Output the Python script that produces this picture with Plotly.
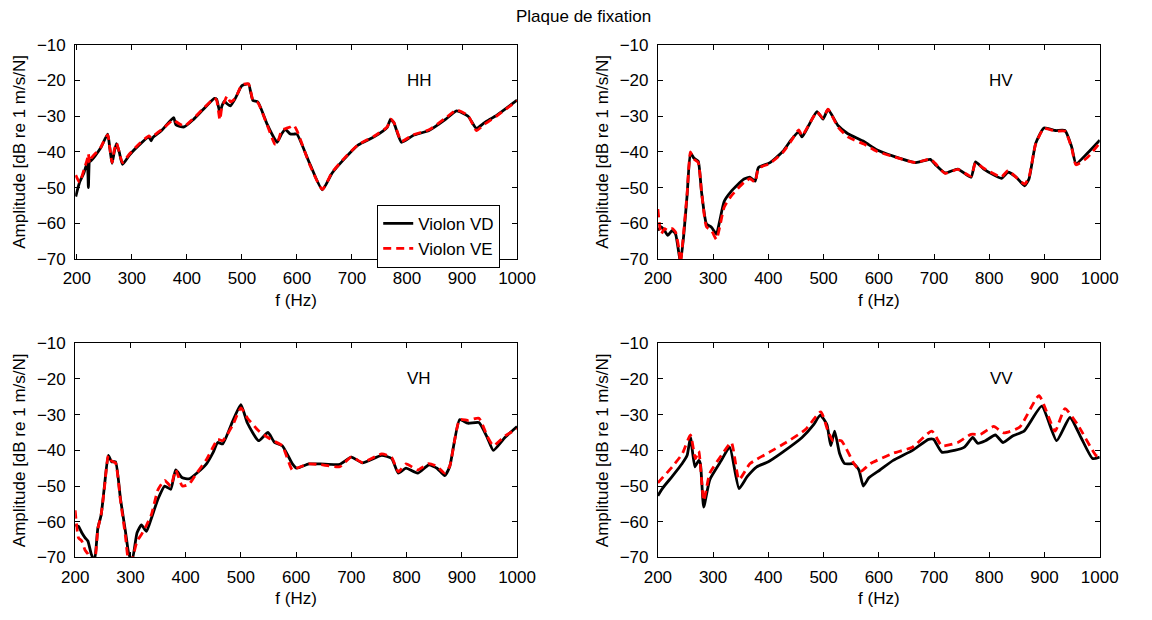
import plotly.graph_objects as go

# ---------------- data ----------------
hh_f = [198, 205, 213, 219, 221, 223, 225, 243, 256, 260, 264, 268, 272, 277, 283, 296, 313, 331, 335, 338,
        354, 376, 380, 395, 412, 429, 450, 454, 460, 464, 468, 473, 479, 488, 500, 512, 516, 520, 529, 546,
        560, 564, 572, 579, 588, 594, 600, 623, 646, 664, 687, 711, 740, 764, 770, 776, 790, 811, 840, 870,
        890, 911, 926, 941, 964, 1000]
hh_vd = [-52.5, -48.5, -45.8, -43, -50, -42, -42.6, -39, -35, -39, -43.2, -40, -37.7, -40, -43.5, -40.8, -38.1, -35.8, -36.9, -36,
         -34, -30.4, -32.4, -33, -30.9, -28.2, -25, -25.2, -29, -27, -25.8, -26.5, -27.1, -25, -21.4, -21, -23.3, -25.6, -26, -32.3,
         -36.5, -37.3, -35, -33.7, -35, -35, -35, -43.2, -50.6, -45.9, -41.8, -38.1, -35.8, -33.1, -30.9, -31.8, -37.3, -35.4, -34, -30.9,
         -28.5, -30, -33.4, -31.8, -29.6, -25.5]
hh_ve = [-46.5, -48.5, -45, -42, -40.5, -43, -42, -38.8, -35.2, -39, -43, -39.5, -37.5, -40, -43, -40.5, -37.8, -35.5, -36, -35.6,
         -33.8, -31, -31.5, -32.8, -30.6, -28, -25, -25.5, -31, -27, -26, -24.3, -26, -25, -21.2, -20.9, -23, -25.5, -26.2, -32.5,
         -37.8, -37.8, -34, -33.5, -33, -32.5, -34, -43.5, -50.5, -45.7, -41.6, -38, -35.6, -33, -30.8, -31.7, -37, -35.2, -33.8, -30.5,
         -28.3, -29.8, -34, -32.2, -29.8, -25.7]

hv_f = [200, 206, 212, 218, 226, 232, 238, 241, 247, 253, 259, 265, 273, 279, 288, 297, 306, 312, 320, 332,
        356, 367, 376, 382, 403, 426, 441, 455, 461, 473, 488, 499, 508, 526, 544, 573, 596, 626, 667, 693,
        702, 720, 743, 767, 775, 790, 822, 834, 849, 864, 872, 884, 899, 920, 937, 949, 957, 978, 1000]
hv_vd = [-62, -61, -62, -63.4, -62, -63, -68.4, -71, -63, -52, -40.3, -41.7, -42.6, -51.2, -60.2, -61.1, -63, -59.3, -53.9, -51.2,
         -47.6, -47.1, -48.2, -44.4, -43, -39.9, -36.7, -34.4, -35.8, -32.6, -28.7, -30.8, -28.1, -32.6, -34.9, -37.1, -39.4, -41.2, -43, -42.1,
         -43.5, -45.9, -44.8, -47.1, -42.8, -44.8, -47.4, -45.7, -47.1, -49.5, -47.5, -37.6, -33.3, -34, -34, -38.5, -43.3, -40.3, -36.7]
hv_ve = [-56, -63, -61.5, -62, -61.5, -62.5, -67, -71, -62, -51.5, -40, -42, -43, -51, -61, -62, -64.5, -61, -55.5, -52.5,
         -48.5, -47.5, -48.5, -44.6, -43.2, -40.2, -37, -33.8, -35.5, -32.5, -28.8, -30.5, -28, -33, -35.8, -37.8, -39.8, -41.3, -43, -42,
         -43.2, -46, -44.9, -46.8, -43.1, -44.6, -47, -45.2, -47.2, -49, -47, -37.8, -33.4, -34.2, -34.2, -38.8, -43.6, -41.5, -37.5]

vh_f = [200, 206, 212, 218, 223, 229, 235, 241, 247, 253, 260, 266, 273, 282, 291, 297, 303, 312, 320, 329,
        338, 350, 362, 373, 382, 394, 406, 420, 438, 450, 458, 467, 485, 500, 512, 532, 549, 561, 575, 593,
        601, 623, 644, 679, 700, 720, 755, 773, 785, 799, 820, 840, 855, 869, 878, 896, 911, 931, 946, 957,
        978, 1000]
vh_vd = [-60.9, -61.3, -63.1, -64.5, -65.4, -69, -71, -61.8, -58.1, -50, -41.4, -43.2, -43.2, -53.6, -62.7, -69, -71, -63.1, -60.9, -62.7,
         -59, -53.6, -50, -50.9, -45.5, -47.7, -48, -46.4, -43.7, -40.5, -37.8, -38.2, -31.9, -27.2, -32.4, -37.3, -35, -37.8, -38.7, -43.7,
         -45, -43.8, -43.8, -43.9, -41.9, -43.5, -41.4, -42.3, -46.4, -45, -46.4, -44.1, -45, -47.1, -44.6, -31.4, -32.4, -32.2, -36.4, -40,
         -36.4, -33.3]
vh_ve = [-56.8, -64.5, -65.4, -68, -69, -71, -71, -62, -58, -50.5, -41.5, -43, -43.5, -54, -64, -71, -70.5, -65.4, -63.6, -61,
         -58, -51, -48.4, -50, -45.5, -50, -49.5, -46.4, -42.5, -39, -36.9, -37.3, -33, -28.1, -31, -34.5, -36.4, -37.5, -38.7, -45.5,
         -45, -43.8, -44, -44.6, -41.8, -43.4, -41, -42, -46, -43.8, -45.5, -43.7, -44.5, -46.4, -44.5, -31.4, -31.6, -31, -36, -38.7,
         -36, -34]

vv_f_vd = [200, 209, 226, 244, 253, 259, 267, 274, 277, 283, 294, 315, 330, 347, 362, 379, 400, 426, 461, 482,
           494, 506, 513, 520, 529, 538, 555, 564, 572, 582, 602, 626, 661, 690, 699, 714, 737, 755, 770, 779,
           793, 811, 825, 843, 863, 895, 922, 946, 966, 987, 1000]
vv_vd = [-52.7, -50.5, -47.3, -43.7, -41.4, -36.4, -44.6, -42.8, -43.7, -55.9, -48.2, -42.8, -39.1, -50.7, -47.3, -44.6, -43.2, -40.5, -36.4, -32.8,
         -30.1, -32.8, -38.7, -34.6, -40.9, -43.7, -43.8, -45.5, -50, -47.7, -45.5, -42.8, -40, -36.9, -36.9, -40.5, -40, -39.1, -36.4, -38,
         -37.3, -35.7, -37.8, -35.9, -34.6, -27.6, -37.3, -30.8, -36.4, -42.3, -41.9]
vv_f_ve = [200, 226, 244, 259, 268, 274, 283, 294, 315, 333, 347, 367, 402, 432, 467, 495, 508, 517, 532, 555,
           567, 585, 626, 661, 696, 714, 743, 767, 784, 808, 826, 855, 890, 919, 937, 960, 993, 1000]
vv_ve = [-49.1, -44.6, -41, -35.7, -42.3, -40.2, -54.1, -46.4, -41.4, -37.8, -48.2, -43.7, -40.5, -37.8, -34.2, -29.2, -34.6, -37.3, -37.3, -43.7,
         -45.9, -43.7, -40.8, -39.1, -34.6, -38.7, -37.8, -35.5, -35.5, -33.3, -35.1, -33.5, -24.7, -34.6, -28.3, -32.8, -41.4, -41.9]

panel_labels = ["HH", "HV", "VH", "VV"]
series_names = ["Violon VD", "Violon VE"]
y_ticks = [-70, -60, -50, -40, -30, -20, -10]
x_ticks = [200, 300, 400, 500, 600, 700, 800, 900, 1000]

# ---------------- figure ----------------
OFF = 8                      # page offset of the figure (body margin)
W, H = 1152 - OFF, 620 - OFF # figure reaches the window's right / bottom edge
FONT = "Liberation Sans, Arial, Helvetica, sans-serif"
FS = 17


def px_x(p):
    return (p - OFF) / W


def px_y(p):
    return 1 - (p - OFF) / H


panels = [
    (hh_f, hh_vd, hh_f, hh_ve, [197, 1000]),
    (hv_f, hv_vd, hv_f, hv_ve, [200, 1000]),
    (vh_f, vh_vd, vh_f, vh_ve, [200, 1000]),
    (vv_f_vd, vv_vd, vv_f_ve, vv_ve, [200, 1000]),
]
# page-pixel boxes (left, right, top, bottom)
boxes = [(71, 526, 45, 266), (671, 1126, 45, 266), (71, 526, 353, 574), (671, 1126, 353, 574)]

fig = go.Figure()
layout = {}
annotations = []
for i, ((fa, va, fb, vb, xr), (l, r, t, b)) in enumerate(zip(panels, boxes)):
    n = "" if i == 0 else str(i + 1)
    xa, ya = "x" + n, "y" + n
    fig.add_trace(go.Scatter(x=fa, y=va, mode="lines", name=series_names[0],
                             line=dict(color="black", width=2.8, shape="spline", smoothing=0.5),
                             xaxis=xa, yaxis=ya, showlegend=(i == 0)))
    fig.add_trace(go.Scatter(x=fb, y=vb, mode="lines", name=series_names[1],
                             line=dict(color="#ff0000", width=2.8, dash="8px,5px", shape="spline", smoothing=0.5),
                             xaxis=xa, yaxis=ya, showlegend=(i == 0)))
    common = dict(showline=True, linecolor="black", linewidth=1, mirror="allticks",
                  ticks="inside", ticklen=5, tickcolor="black", showgrid=False, zeroline=False,
                  tickfont=dict(family=FONT, size=FS, color="black"))
    layout["xaxis" + n] = dict(common, domain=[px_x(l), px_x(r)], range=xr, tickvals=x_ticks,
                               anchor=ya, ticklabelstandoff=4,
                               title=dict(text="f (Hz)", standoff=6,
                                          font=dict(family=FONT, size=FS, color="black")))
    layout["yaxis" + n] = dict(common, domain=[px_y(b), px_y(t)], range=[-70, -10], tickvals=y_ticks,
                               anchor=xa, ticklabelstandoff=5,
                               title=dict(text="Amplitude [dB re 1 m/s/N]", standoff=6,
                                          font=dict(family=FONT, size=FS, color="black")))
    annotations.append(dict(text=panel_labels[i], x=822, y=-20, xref=xa, yref=ya, showarrow=False,
                            font=dict(family=FONT, size=FS, color="black")))

annotations.append(dict(text="Plaque de fixation", x=px_x(594), y=px_y(16), xref="paper", yref="paper",
                        xanchor="center", yanchor="middle", showarrow=False,
                        font=dict(family=FONT, size=FS, color="black")))

fig.update_layout(**layout)
fig.update_layout(
    width=W, height=H, margin=dict(l=0, r=0, t=0, b=0),
    paper_bgcolor="white", plot_bgcolor="white",
    annotations=annotations,
    legend=dict(x=px_x(382), y=px_y(210), xanchor="left", yanchor="top",
                bordercolor="black", borderwidth=1, bgcolor="white",
                font=dict(family=FONT, size=FS, color="black"),
                tracegroupgap=0, itemwidth=30),
    font=dict(family=FONT, size=FS, color="black"),
)
fig.write_html("out.html")
